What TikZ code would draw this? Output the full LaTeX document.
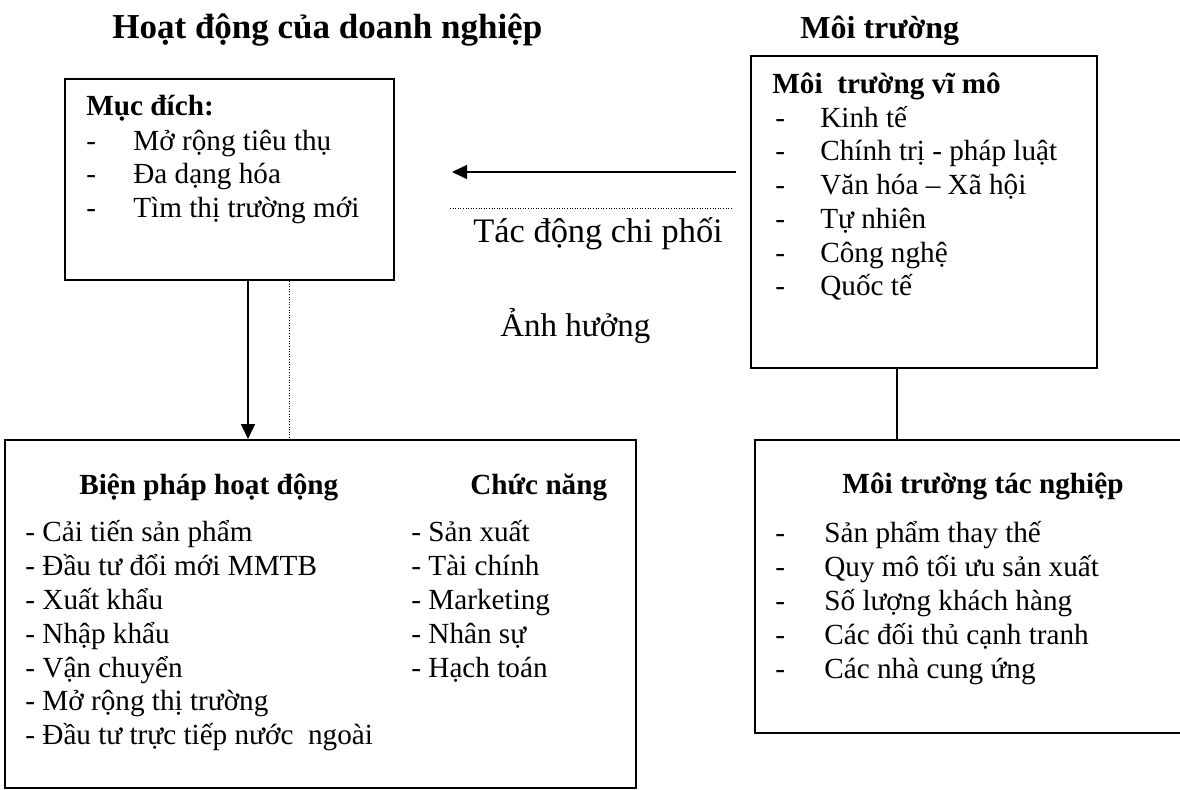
\documentclass[tikz,border=0pt]{standalone}
\usepackage{fontspec}
\setmainfont{Liberation Serif}
\usetikzlibrary{arrows.meta,fit}

\begin{document}
\begin{tikzpicture}[x=0.5pt,y=-0.5pt,
    box/.style={draw, line width=1pt, inner sep=0pt},
    title/.style={anchor=base west, font=\fontsize{17.5}{20}\selectfont\bfseries, inner sep=0pt},
    head/.style={anchor=base west, font=\fontsize{14.6}{17}\selectfont\bfseries, inner sep=0pt},
    item/.style={anchor=base west, font=\fontsize{14.6}{17}\selectfont, inner sep=0pt},
    note/.style={anchor=base west, font=\fontsize{17.2}{20}\selectfont, inner sep=0pt},
    arr/.style={line width=0.8pt, -{Triangle[length=7.5pt,width=7pt]}},
    dots/.style={line width=0.5pt, dash pattern=on 0.5pt off 0.8pt}]
    \useasboundingbox (0,0) rectangle (1180,789);
    \clip (0,0) rectangle (1180,789);
    % titles
    \node[title] (hd) at (112,38) {Hoạt động của doanh nghiệp};
    \node[title, font=\fontsize{16}{19}\selectfont\bfseries] (mt) at (800,38) {Môi trường};
    % boxes
    \node[box, fit={(65,79) (394,280)}] (muc) {};
    \node[box, fit={(751,56) (1097,368)}] (vimo) {};
    \node[box, fit={(5,440) (636,788)}] (bien) {};
    \node[box, fit={(755,440) (1200,733)}] (tacng) {};
    % Muc dich
    \node[head] (mucT) at (86,115) {Mục đích:};
    \foreach \t [count=\i] in {Mở rộng tiêu thụ, Đa dạng hóa, Tìm thị trường mới} {
        \node[item] at (86,{116.5+33.5*\i}) {-};
        \node[item] (muc-\i) at (133,{116.5+33.5*\i}) {\t};
    }
    % Moi truong vi mo
    \node[head] (vimoT) at (772,93) {Môi\ \ trường vĩ mô};
    \foreach \t [count=\i] in {Kinh tế, Chính trị - pháp luật, Văn hóa – Xã hội, Tự nhiên, Công nghệ, Quốc tế} {
        \node[item] at (775,{93.5+33.7*\i}) {-};
        \node[item] (vimo-\i) at (820,{93.5+33.7*\i}) {\t};
    }
    % Bien phap hoat dong / Chuc nang
    \node[head] (bienT) at (79,494) {Biện pháp hoạt động};
    \node[head] (chucT) at (470,494) {Chức năng};
    \foreach \t [count=\i] in {Cải tiến sản phẩm, Đầu tư đổi mới MMTB, Xuất khẩu, Nhập khẩu, Vận chuyển, Mở rộng thị trường, Đầu tư trực tiếp nước\ \ ngoài} {
        \node[item] (bien-\i) at (25,{508+33.8*\i}) {- \t};
    }
    \foreach \t [count=\i] in {Sản xuất, Tài chính, Marketing, Nhân sự, Hạch toán} {
        \node[item] (chuc-\i) at (411,{508+33.8*\i}) {- \t};
    }
    % Moi truong tac nghiep
    \node[head, anchor=base] (tacngT) at (983,493) {Môi trường tác nghiệp};
    \foreach \t [count=\i] in {Sản phẩm thay thế, Quy mô tối ưu sản xuất, Số lượng khách hàng, Các đối thủ cạnh tranh, Các nhà cung ứng} {
        \node[item] at (775,{508+34*\i}) {-};
        \node[item] (tacng-\i) at (824,{508+34*\i}) {\t};
    }
    % labels
    \node[note] (tacdong) at (473,242) {Tác động chi phối};
    \node[note, font=\fontsize{16.5}{19}\selectfont] (anhhuong) at (500,336) {Ảnh hưởng};
    % connectors
    \coordinate (arrR) at (736,172);
    \coordinate (arrL) at (452,172);
    \draw[arr] (arrR) -- (arrL);
    \coordinate (dotL) at (450,208);
    \coordinate (dotR) at (732,208);
    \draw[dots] (dotL) -- (dotR);
    \coordinate (ax) at (248,0);
    \coordinate (dx) at (289,0);
    \coordinate (cx) at (897,0);
    \draw[arr] (muc.south -| ax) -- (bien.north -| ax);
    \draw[dots] (muc.south -| dx) -- (bien.north -| dx);
    \draw[line width=0.8pt] (vimo.south -| cx) -- (tacng.north -| cx);
\end{tikzpicture}
\end{document}
